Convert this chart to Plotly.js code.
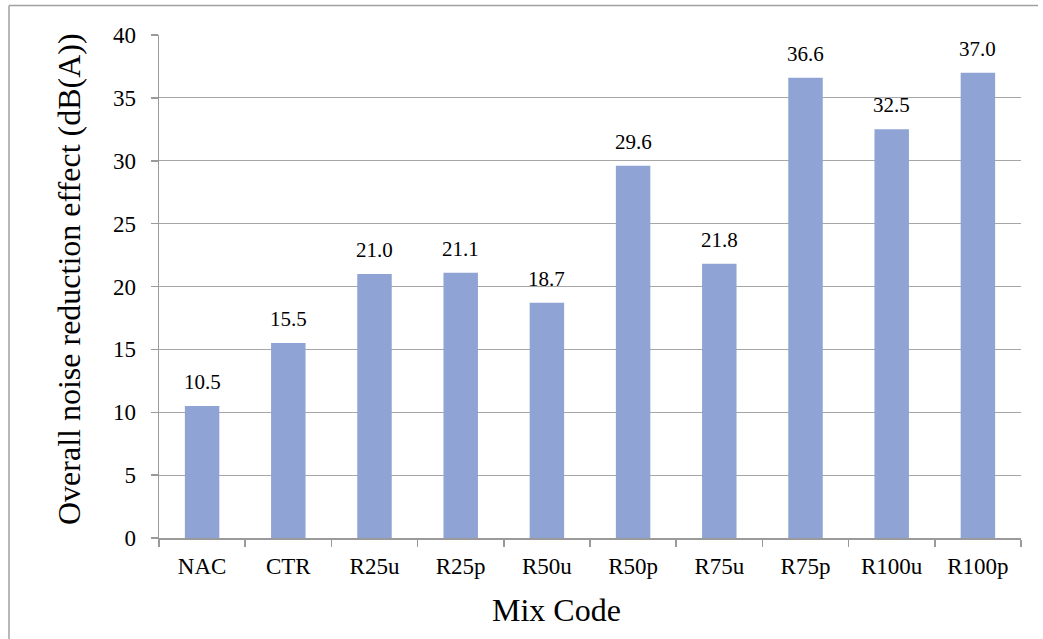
<!DOCTYPE html>
<html>
<head>
<meta charset="utf-8">
<script src="https://cdn.plot.ly/plotly-3.0.1.min.js"></script>
<style>
  html, body { margin: 0; padding: 0; background: #fff; }
  #chart { width: 1043px; height: 639px; }
</style>
</head>
<body>
<div id="chart"></div>
<script>
// Mix codes and their overall noise reduction effect, dB(A)
const mixCodes = ['NAC', 'CTR', 'R25u', 'R25p', 'R50u', 'R50p', 'R75u', 'R75p', 'R100u', 'R100p'];
const reduction = [10.5, 15.5, 21.0, 21.1, 18.7, 29.6, 21.8, 36.6, 32.5, 37.0];
const yTicks = [0, 5, 10, 15, 20, 25, 30, 35, 40];

const W = 1043, H = 639;
const M = { l: 159, r: 22, t: 35, b: 101 };
const plotW = W - M.l - M.r, plotH = H - M.t - M.b;
const px2x = px => (px - M.l) / plotW;
const px2y = py => (H - M.b - py) / plotH;

const serif = '"Liberation Serif", "Times New Roman", serif';
const gray = '#9a9a9a';

const trace = {
  type: 'bar',
  x: mixCodes,
  y: reduction,
  marker: { color: '#8fa4d4', line: { width: 0 } },
  hoverinfo: 'x+y'
};

// Value labels above each bar
const valueLabels = mixCodes.map((c, i) => ({
  x: c, y: reduction[i], xref: 'x', yref: 'y',
  text: reduction[i].toFixed(1),
  showarrow: false, yanchor: 'bottom', yshift: 10,
  font: { family: serif, size: 21, color: '#000' }
}));

const titles = [
  {
    text: 'Mix Code', xref: 'paper', yref: 'paper',
    x: px2x(556), y: px2y(610), xanchor: 'center', yanchor: 'middle',
    showarrow: false, font: { family: serif, size: 32, color: '#000' }
  },
  {
    text: 'Overall noise reduction effect (dB(A))', xref: 'paper', yref: 'paper',
    x: px2x(69), y: px2y(279), xanchor: 'center', yanchor: 'middle', textangle: -90,
    showarrow: false, font: { family: serif, size: 32, color: '#000' }
  }
];

// Outer frame lines (top and left edges)
const frame = [
  { type: 'line', xref: 'paper', yref: 'paper', x0: px2x(9), x1: px2x(1038), y0: px2y(5.5), y1: px2y(5.5), line: { color: '#a0a0a0', width: 1.5 } },
  { type: 'line', xref: 'paper', yref: 'paper', x0: px2x(9), x1: px2x(9), y0: px2y(5.5), y1: px2y(640), line: { color: '#a0a0a0', width: 1.5 } }
];

const layout = {
  width: W, height: H,
  margin: M,
  paper_bgcolor: '#fff', plot_bgcolor: '#fff',
  showlegend: false,
  bargap: 0.6,
  xaxis: {
    type: 'category',
    showline: true, linecolor: gray, linewidth: 1.5,
    ticks: 'outside', tickson: 'boundaries', ticklen: 7, tickcolor: gray, tickwidth: 1.5,
    tickfont: { family: serif, size: 23, color: '#000' },
    ticklabelstandoff: 7,
    showgrid: false, zeroline: false, fixedrange: true
  },
  yaxis: {
    range: [0, 40],
    tickvals: yTicks, ticktext: yTicks.map(String),
    showline: true, linecolor: gray, linewidth: 1.5,
    ticks: 'outside', ticklen: 7, tickcolor: gray, tickwidth: 1.5,
    tickfont: { family: serif, size: 23, color: '#000' },
    ticklabelstandoff: 10,
    showgrid: true, gridcolor: '#a6a6a6', gridwidth: 1.2,
    zeroline: false, fixedrange: true
  },
  annotations: valueLabels.concat(titles),
  shapes: frame
};

Plotly.newPlot('chart', [trace], layout, { displayModeBar: false, staticPlot: true });
</script>
</body>
</html>
